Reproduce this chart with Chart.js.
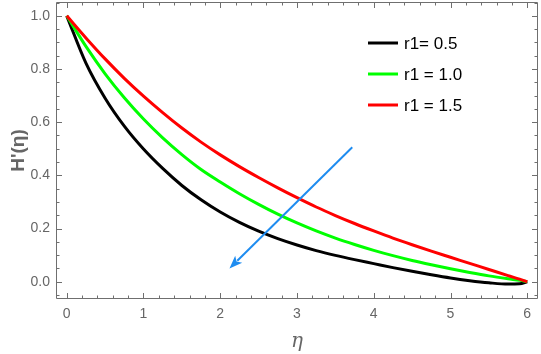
<!DOCTYPE html>
<html><head><meta charset="utf-8">
<script src="https://cdn.jsdelivr.net/npm/chart.js@4/dist/chart.umd.min.js"></script>
<style>html,body{margin:0;padding:0;background:#fff}#wrap{width:541px;height:354px}</style>
</head><body><div id="wrap"><canvas id="c"></canvas></div>
<script>
const etaValues = [0, 0.25, 0.5, 0.75, 1.0, 1.25, 1.5, 1.75, 2.0, 2.25, 2.5, 2.75, 3.0, 3.25, 3.5, 3.75, 4.0, 4.25, 4.5, 4.75, 5.0, 5.25, 5.5, 5.75, 5.9, 6.0];
const seriesR05 = [1.0, 0.822, 0.690, 0.585, 0.499, 0.426, 0.362, 0.308, 0.262, 0.223, 0.190, 0.162, 0.138, 0.117, 0.099, 0.083, 0.068, 0.053, 0.039, 0.026, 0.014, 0.004, -0.004, -0.009, -0.008, 0.0];
const seriesR10 = [1.0, 0.885, 0.782, 0.692, 0.612, 0.541, 0.478, 0.422, 0.375, 0.331, 0.291, 0.254, 0.221, 0.191, 0.164, 0.140, 0.118, 0.098, 0.080, 0.064, 0.049, 0.035, 0.022, 0.011, 0.005, 0.0];
const seriesR15 = [1.0, 0.917, 0.838, 0.765, 0.698, 0.636, 0.578, 0.525, 0.477, 0.433, 0.392, 0.353, 0.316, 0.281, 0.249, 0.219, 0.191, 0.164, 0.139, 0.115, 0.092, 0.069, 0.046, 0.023, 0.010, 0.0];
const seriesLabels = ['r1= 0.5', 'r1 = 1.0', 'r1 = 1.5'];
const seriesColors = ['#000000', '#00ff00', '#ff0000'];
const xTickValues = [0, 1, 2, 3, 4, 5, 6];
const yTickValues = [0.0, 0.2, 0.4, 0.6, 0.8, 1.0];
const xMinorTicks = [0.2,0.4,0.6,0.8,1.2,1.4,1.6,1.8,2.2,2.4,2.6,2.8,3.2,3.4,3.6,3.8,4.2,4.4,4.6,4.8,5.2,5.4,5.6,5.8];
const yMinorTicks = [-0.05,0.05,0.1,0.15,0.25,0.3,0.35,0.45,0.5,0.55,0.65,0.7,0.75,0.85,0.9,0.95,1.05];
const arrowFrom = [3.72, 0.506];
const arrowTo = [2.12, 0.05];

const seriesData = [seriesR05, seriesR10, seriesR15];
const datasets = seriesData.map((vals, i) => ({
  label: seriesLabels[i],
  data: etaValues.map((x, j) => ({x: x, y: vals[j]})),
  borderColor: seriesColors[i],
  backgroundColor: seriesColors[i],
  borderWidth: 3,
  pointRadius: 0,
  cubicInterpolationMode: 'monotone',
  fill: false
}));
datasets.reverse();

const FRAME = '#6f6f6f';
const TXT = '#666666';

const framePlugin = {
  id: 'frame',
  beforeDatasetsDraw(chart) {
    const {ctx, chartArea: a, scales: {x, y}} = chart;
    ctx.save();
    ctx.strokeStyle = FRAME;
    ctx.lineWidth = 1;
    ctx.beginPath();
    ctx.rect(Math.round(a.left) + 0.5, Math.round(a.top) + 0.5, Math.round(a.right - a.left) - 1, Math.round(a.bottom - a.top) - 1);
    ctx.stroke();
    const tick = (vals, len) => {
      vals.forEach(v => {
        const px = Math.round(x.getPixelForValue(v)) + 0.5;
        ctx.moveTo(px, a.bottom); ctx.lineTo(px, a.bottom - len);
        ctx.moveTo(px, a.top); ctx.lineTo(px, a.top + len);
      });
    };
    const ytick = (vals, len) => {
      vals.forEach(v => {
        const py = Math.round(y.getPixelForValue(v)) + 0.5;
        ctx.moveTo(a.left, py); ctx.lineTo(a.left + len, py);
        ctx.moveTo(a.right, py); ctx.lineTo(a.right - len, py);
      });
    };
    ctx.beginPath();
    tick(xTickValues, 6); tick(xMinorTicks, 3.5);
    ytick(yTickValues, 6); ytick(yMinorTicks, 3.5);
    ctx.stroke();
    ctx.restore();
  },
  afterDatasetsDraw(chart) {
    const {ctx, scales: {x, y}} = chart;
    ctx.save();
    const x1 = x.getPixelForValue(arrowFrom[0]), y1 = y.getPixelForValue(arrowFrom[1]);
    const x2 = x.getPixelForValue(arrowTo[0]), y2 = y.getPixelForValue(arrowTo[1]);
    const ang = Math.atan2(y2 - y1, x2 - x1);
    const hl = 13, hw = 5;
    const bx = x2 - hl * Math.cos(ang), by = y2 - hl * Math.sin(ang);
    ctx.strokeStyle = '#1e8cf0';
    ctx.fillStyle = '#1e8cf0';
    ctx.lineWidth = 2;
    ctx.beginPath(); ctx.moveTo(x1, y1); ctx.lineTo(bx + 2 * Math.cos(ang), by + 2 * Math.sin(ang)); ctx.stroke();
    ctx.beginPath();
    ctx.moveTo(x2, y2);
    ctx.lineTo(bx - hw * Math.sin(ang), by + hw * Math.cos(ang));
    ctx.lineTo(x2 - (hl - 3) * Math.cos(ang), y2 - (hl - 3) * Math.sin(ang));
    ctx.lineTo(bx + hw * Math.sin(ang), by - hw * Math.cos(ang));
    ctx.closePath(); ctx.fill();
    const lx = 368, ly0 = 43, dy = 31;
    ctx.font = '17px "Liberation Sans", Arial, sans-serif';
    ctx.textBaseline = 'middle';
    seriesLabels.forEach((lab, i) => {
      const yy = ly0 + i * dy;
      ctx.strokeStyle = seriesColors[i];
      ctx.lineWidth = 3;
      ctx.beginPath(); ctx.moveTo(lx, yy); ctx.lineTo(lx + 30, yy); ctx.stroke();
      ctx.fillStyle = '#000';
      ctx.fillText(lab, lx + 36, yy + 1);
    });
    ctx.restore();
  }
};

new Chart(document.getElementById('c'), {
  type: 'line',
  data: {datasets},
  options: {
    responsive: true,
    maintainAspectRatio: false,
    animation: false,
    events: [],
    layout: {padding: {top: 2, right: 3, left: 0, bottom: 0}},
    plugins: {legend: {display: false}, tooltip: {enabled: false}},
    scales: {
      x: {
        type: 'linear', min: -0.14, max: 6.14,
        grid: {display: false, drawTicks: false},
        border: {display: false},
        afterBuildTicks: s => { s.ticks = xTickValues.map(v => ({value: v})); },
        afterFit: s => { s.height = 55; s.paddingLeft = 0; s.paddingRight = 0; },
        ticks: {color: TXT, padding: 7, font: {family: '"Liberation Sans", Arial, sans-serif', size: 14}, callback: v => String(v), maxRotation: 0},
        title: {display: true, text: 'η', color: TXT, font: {family: '"DejaVu Serif", serif', size: 20, style: 'italic'}, padding: {top: 0, bottom: 0}}
      },
      y: {
        type: 'linear', min: -0.065, max: 1.052,
        grid: {display: false, drawTicks: false},
        border: {display: false},
        afterBuildTicks: s => { s.ticks = yTickValues.map(v => ({value: v})); },
        afterFit: s => { s.width = 56; s.paddingTop = 0; s.paddingBottom = 0; },
        ticks: {color: TXT, padding: 6, font: {family: '"Liberation Sans", Arial, sans-serif', size: 14}, callback: v => Number(v).toFixed(1)},
        title: {display: true, text: "H'(η)", color: TXT, font: {family: '"Liberation Sans", Arial, sans-serif', size: 19, weight: 'bold'}, padding: {top: 7, bottom: 0}}
      }
    }
  },
  plugins: [framePlugin]
});
</script></body></html>
